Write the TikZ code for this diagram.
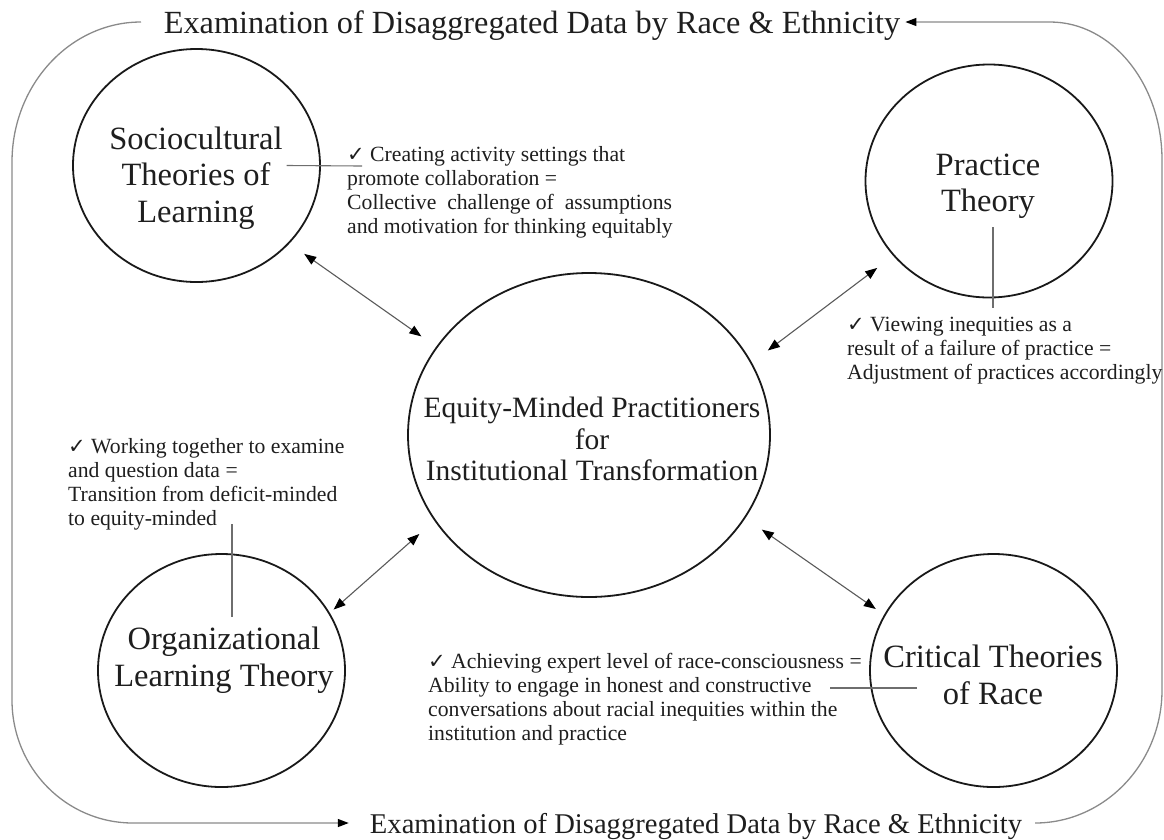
\documentclass[tikz,border=0pt]{standalone}
\usepackage{fontspec}
\setmainfont{Liberation Serif}
\newfontfamily\symfont{DejaVu Sans}
\usetikzlibrary{shapes.geometric,arrows.meta}
\definecolor{outerc}{HTML}{8A8A8A}
\definecolor{linkc}{HTML}{5A5A5A}
\definecolor{connc}{HTML}{6E6E6E}
\definecolor{txtc}{HTML}{1E1E1E}
\newcommand\ckm{{\symfont\fontsize{21}{21}\selectfont ✓}}
\begin{document}
\begin{tikzpicture}[x=1pt,y=-1pt,
  circ/.style={draw=black!90, line width=1.8pt, ellipse, minimum width=247pt, minimum height=233pt, inner sep=0pt},
  bigcirc/.style={circ, minimum width=362pt, minimum height=324pt},
  ctext/.style={align=center, inner sep=0pt, text=txtc, font=\fontsize{32.5}{36.5}\selectfont},
  mtext/.style={align=center, inner sep=0pt, text=txtc, font=\fontsize{29.5}{31.5}\selectfont},
  note/.style={align=left, inner sep=0pt, anchor=north west, text=txtc, font=\fontsize{21.7}{24}\selectfont},
  ttl/.style={inner sep=0pt, text depth=0pt, text=txtc},
  outer/.style={draw=outerc, line width=1.3pt},
  otip/.style={-{Triangle[length=11pt,width=8pt,color=black]}},
  link/.style={draw=linkc, line width=1.1pt, {Triangle[length=12pt,width=9pt,color=black]}-{Triangle[length=12pt,width=9pt,color=black]}},
  conn/.style={draw=connc, line width=1.1pt}
]
\useasboundingbox (0,0) rectangle (1164,839);

% titles
\node[ttl, font=\fontsize{32.3}{36}\selectfont] (ttop) at (532,22) {Examination of Disaggregated Data by Race \& Ethnicity};
\node[ttl, font=\fontsize{28.6}{32}\selectfont] (tbot) at (696,823) {Examination of Disaggregated Data by Race \& Ethnicity};

% outer loop
\coordinate (tl) at (141,22);
\coordinate (br) at (1035,823);
\draw[outer, otip] (tl) .. controls (70,22) and (12,85) .. (12,162) -- (12,700)
  .. controls (12,768) and (66,823) .. (133,823) -- ([xshift=-21pt]tbot.west);
\draw[outer, otip] (br) .. controls (1105,823) and (1162,763) .. (1162,690) -- (1162,160)
  .. controls (1162,84) and (1112,22) .. (1050,22) -- ([xshift=5pt]ttop.east);

% circles
\node[circ] (soc) at (196.5,165.5) {};
\node[circ] (prac) at (989,181) {};
\node[circ] (org) at (221.5,670.5) {};
\node[circ] (crit) at (993.5,670.5) {};
\node[bigcirc] (ctr) at (589,435) {};

\node[ctext] (soct) at (196,178) {Sociocultural\\Theories of\\Learning};
\node[ctext] (pract) at (988,186) {Practice\\Theory};
\node[ctext] (orgt) at (224,660) {Organizational\\Learning Theory};
\node[ctext] (critt) at (993,675) {Critical Theories\\of Race};
\node[mtext] (ctrt) at (592,439) {Equity-Minded Practitioners\\for\\Institutional Transformation};

% links
\draw[link, shorten <=18pt, shorten >=18pt] (soc.-40) -- (ctr.150.7);
\draw[link, shorten <=20pt, shorten >=20pt] (prac.218.1) -- (ctr.24.6);
\draw[link, shorten <=5pt, shorten >=20pt] (org.28.8) -- (ctr.209.1);
\draw[link, shorten <=20pt, shorten >=10pt] (ctr.-28.3) -- (crit.153.8);

% notes
\node[note] (socn) at (347,146.5) {\ckm\ Creating activity settings that\\promote collaboration =\\Collective\ \ challenge of\ \ assumptions\\and motivation for thinking equitably};
\node[note] (pracn) at (847,316.5) {\ckm\ Viewing inequities as a\\result of a failure of practice =\\Adjustment of practices accordingly};
\node[note] (orgn) at (68,438.5) {\ckm\ Working together to examine\\and question data =\\Transition from deficit-minded\\to equity-minded};
\node[note] (critn) at (428,653.5) {\ckm\ Achieving expert level of race-consciousness =\\Ability to engage in honest and constructive\\conversations about racial inequities within the\\institution and practice};

% callout connectors
\coordinate (socB) at (362,166);
\coordinate (pracB) at (993,308);
\coordinate (orgB) at (232,524);
\coordinate (critB) at (830,688);
\draw[conn] ([xshift=90pt]soc.center) -- (socB);
\draw[conn] ([shift={(4pt,-46pt)}]prac.center) -- (pracB);
\draw[conn] ([shift={(10.5pt,53.5pt)}]org.center) -- (orgB);
\draw[conn] ([shift={(-76.5pt,-17.5pt)}]crit.center) -- (critB);
\end{tikzpicture}
\end{document}
